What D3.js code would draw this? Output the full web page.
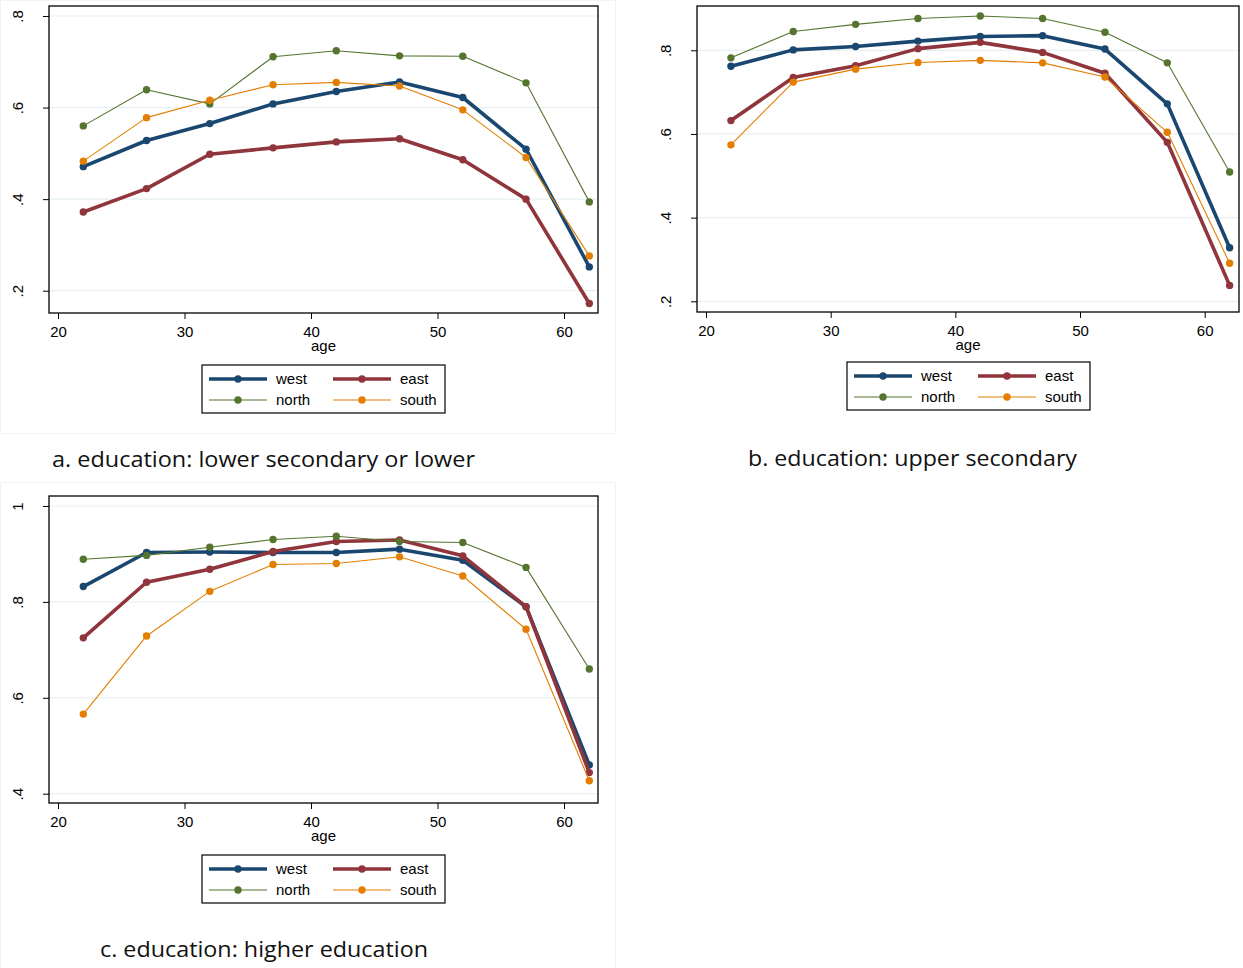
<!DOCTYPE html>
<html>
<head>
<meta charset="utf-8">
<script src="https://cdn.jsdelivr.net/npm/d3@7/dist/d3.min.js"></script>
<style>
  html, body { margin: 0; padding: 0; background: #fff; }
  svg { display: block; }
  .tick text { font-family: "Liberation Sans", Arial, sans-serif; font-size: 15px; fill: #000; }
</style>
</head>
<body>
<svg id="chart" width="1243" height="968"></svg>
<script>
// ---------- data ----------
const ages = [22, 27, 32, 37, 42, 47, 52, 57, 62];
const regions = ["west", "east", "north", "south"];

// panel a: lower secondary or lower
const aWest  = [0.471, 0.528, 0.565, 0.608, 0.635, 0.656, 0.622, 0.509, 0.252];
const aEast  = [0.372, 0.423, 0.498, 0.512, 0.525, 0.532, 0.486, 0.400, 0.172];
const aNorth = [0.560, 0.639, 0.608, 0.711, 0.724, 0.713, 0.712, 0.654, 0.394];
const aSouth = [0.483, 0.578, 0.616, 0.650, 0.655, 0.647, 0.595, 0.491, 0.276];

// panel b: upper secondary
const bWest  = [0.762, 0.801, 0.809, 0.822, 0.833, 0.835, 0.803, 0.672, 0.328];
const bEast  = [0.632, 0.735, 0.763, 0.804, 0.819, 0.795, 0.745, 0.580, 0.238];
const bNorth = [0.782, 0.845, 0.862, 0.876, 0.882, 0.876, 0.843, 0.770, 0.509];
const bSouth = [0.574, 0.724, 0.755, 0.771, 0.776, 0.770, 0.736, 0.604, 0.291];

// panel c: higher education
const cWest  = [0.832, 0.903, 0.904, 0.903, 0.903, 0.910, 0.887, 0.790, 0.460];
const cEast  = [0.725, 0.841, 0.868, 0.905, 0.926, 0.929, 0.896, 0.790, 0.444];
const cNorth = [0.889, 0.897, 0.914, 0.930, 0.937, 0.926, 0.924, 0.872, 0.660];
const cSouth = [0.566, 0.729, 0.822, 0.878, 0.880, 0.894, 0.854, 0.743, 0.427];

const xTicks = [20, 30, 40, 50, 60];
const yTicksAB = [0.2, 0.4, 0.6, 0.8];
const yTicksC = [0.4, 0.6, 0.8, 1];
const yTickLabel = v => (v === 1 ? "1" : String(v).replace(/^0/, ""));

const titles = [
  "a. education: lower secondary or lower",
  "b. education: upper secondary",
  "c. education: higher education"
];
const xLabel = "age";

// ---------- styles ----------
const colors = { west: "#1a476f", east: "#90353b", north: "#55752f", south: "#e37e00" };
const widths = { west: 3.6, east: 3.6, north: 1.1, south: 1.1 };
const gridColor = "#e6eff1";
const labelFont = "Liberation Sans, Arial, sans-serif";

const svg = d3.select("#chart");

// faint graph-region frames
svg.append("rect").attr("x", 0.5).attr("y", 0.5).attr("width", 615).attr("height", 433)
  .attr("fill", "none").attr("stroke", "#f3f3f3");
svg.append("rect").attr("x", 0.5).attr("y", 482.5).attr("width", 615).attr("height", 490)
  .attr("fill", "none").attr("stroke", "#f3f3f3");

function drawPanel(cfg) {
  const x = d3.scaleLinear().domain([20, 60]).range(cfg.xRange);
  const y = d3.scaleLinear().domain(cfg.yDomain).range(cfg.yRange);
  const g = svg.append("g");
  const b = cfg.box; // [left, top, right, bottom]

  // gridlines
  g.selectAll("line.grid").data(cfg.yTicks).enter().append("line")
    .attr("x1", b[0]).attr("x2", b[2])
    .attr("y1", d => y(d)).attr("y2", d => y(d))
    .attr("stroke", gridColor).attr("stroke-width", 1.2);

  // series
  const line = d3.line().x((d, i) => x(ages[i])).y(d => y(d));
  regions.forEach(r => {
    const vals = cfg.series[r];
    g.append("path").datum(vals).attr("d", line)
      .attr("fill", "none").attr("stroke", colors[r])
      .attr("stroke-width", widths[r]).attr("stroke-linejoin", "round");
    g.selectAll(null).data(vals).enter().append("circle")
      .attr("cx", (d, i) => x(ages[i])).attr("cy", d => y(d))
      .attr("r", 3.7).attr("fill", colors[r]);
  });

  // box
  g.append("rect").attr("x", b[0]).attr("y", b[1])
    .attr("width", b[2] - b[0]).attr("height", b[3] - b[1])
    .attr("fill", "none").attr("stroke", "#000").attr("stroke-width", 1.3);

  // y axis
  const ya = g.append("g").attr("transform", `translate(${b[0]},0)`)
    .call(d3.axisLeft(y).tickValues(cfg.yTicks).tickFormat(yTickLabel).tickSize(6));
  ya.select(".domain").remove();
  ya.selectAll(".tick text")
    .attr("x", 0).attr("y", 0).attr("dy", "0.35em")
    .attr("text-anchor", "middle")
    .attr("transform", "translate(-31,0) rotate(-90)");

  // x axis
  const xa = g.append("g").attr("transform", `translate(0,${b[3]})`)
    .call(d3.axisBottom(x).tickValues(xTicks).tickFormat(d3.format("d")).tickSize(6));
  xa.select(".domain").remove();
  xa.selectAll(".tick text").attr("y", 13);

  g.append("text").attr("x", (b[0] + b[2]) / 2).attr("y", b[3] + 38)
    .attr("text-anchor", "middle")
    .style("font-family", labelFont).style("font-size", "15px")
    .text(xLabel);

  // legend
  const L = cfg.legend; // [left, top]
  const lg = g.append("g").attr("transform", `translate(${L[0]},${L[1]})`);
  lg.append("rect").attr("x", 0).attr("y", 0).attr("width", 243).attr("height", 48)
    .attr("fill", "#fff").attr("stroke", "#000").attr("stroke-width", 1.2);
  const items = [
    { r: "west", cx: 7, cy: 14 }, { r: "east", cx: 131, cy: 14 },
    { r: "north", cx: 7, cy: 35 }, { r: "south", cx: 131, cy: 35 }
  ];
  items.forEach(it => {
    lg.append("line").attr("x1", it.cx).attr("x2", it.cx + 58)
      .attr("y1", it.cy).attr("y2", it.cy)
      .attr("stroke", colors[it.r]).attr("stroke-width", widths[it.r]);
    lg.append("circle").attr("cx", it.cx + 29).attr("cy", it.cy).attr("r", 3.7)
      .attr("fill", colors[it.r]);
    lg.append("text").attr("x", it.cx + 67).attr("y", it.cy + 5)
      .style("font-family", labelFont).style("font-size", "15px")
      .text(it.r);
  });

  // panel title
  svg.append("text").attr("x", cfg.title[0]).attr("y", cfg.title[1])
    .attr("textLength", cfg.title[2]).attr("lengthAdjust", "spacingAndGlyphs")
    .style("font-family", "Open Sans, Noto Sans, sans-serif").style("font-size", "22px")
    .style("fill", "#111")
    .text(cfg.titleText);
}

drawPanel({
  xRange: [58, 564], yDomain: [0.2, 0.8], yRange: [290.7, 16], yTicks: yTicksAB,
  box: [49, 6, 598, 313],
  series: { west: aWest, east: aEast, north: aNorth, south: aSouth },
  legend: [202, 365], title: [52, 467, 423], titleText: titles[0]
});
drawPanel({
  xRange: [706, 1204.7], yDomain: [0.2, 0.8], yRange: [301.3, 50.3], yTicks: yTicksAB,
  box: [697, 6, 1239, 312],
  series: { west: bWest, east: bEast, north: bNorth, south: bSouth },
  legend: [847, 362], title: [748, 466, 329], titleText: titles[1]
});
drawPanel({
  xRange: [58, 564], yDomain: [0.4, 1], yRange: [793.7, 506], yTicks: yTicksC,
  box: [49, 496, 598, 803],
  series: { west: cWest, east: cEast, north: cNorth, south: cSouth },
  legend: [202, 855], title: [100, 957, 328], titleText: titles[2]
});
</script>
</body>
</html>
